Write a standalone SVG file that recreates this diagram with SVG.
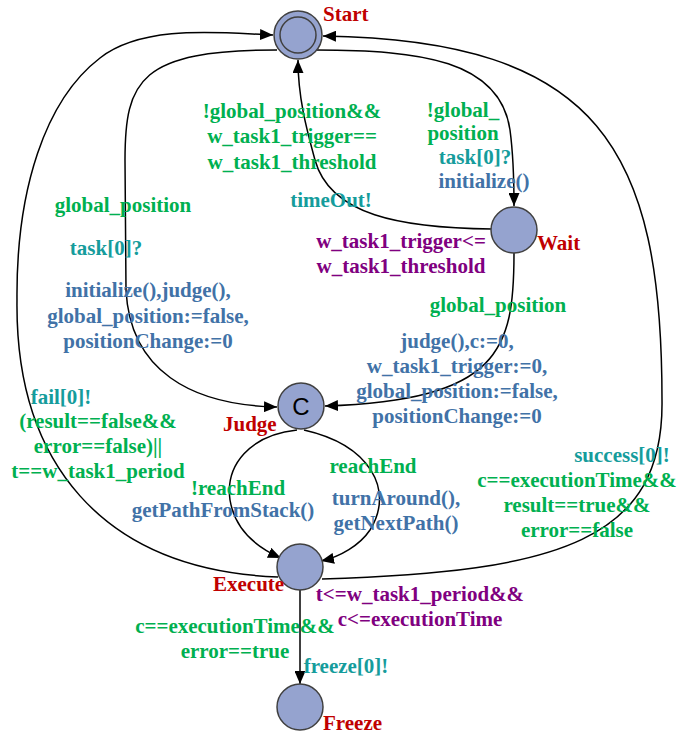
<svg xmlns="http://www.w3.org/2000/svg" width="678" height="735" viewBox="0 0 678 735">
  <defs>
    <marker id="arrow" markerUnits="userSpaceOnUse" markerWidth="13" markerHeight="11" refX="13" refY="5.5" orient="auto">
      <path d="M0,0 L13,5.5 L0,11 z" fill="#000"/>
    </marker>
    <style>
      .node { fill: #95A3CF; stroke: #404040; stroke-width: 1.5; }
      .edge { fill: none; stroke: #000; stroke-width: 1.5; marker-end: url(#arrow); }
      text { font-family: "Liberation Serif", "Times New Roman", serif; font-weight: bold; font-size: 21px; }
      .name { fill: #C00000; }
      .guard { fill: #00B050; text-anchor: middle; }
      .sync { fill: #159C9C; text-anchor: middle; }
      .update { fill: #4172A7; text-anchor: middle; }
      .inv { fill: #800080; text-anchor: middle; }
      .committed { font-family: "Liberation Sans", Arial, sans-serif; font-weight: normal; font-size: 24px; fill: #000; text-anchor: middle; }
    </style>
  </defs>
  <rect width="678" height="735" fill="#fff"/>

  <g id="connectors">
    <!-- Execute -> Start (left, fail) -->
    <path class="edge" d="M278,577 C100,570 15,460 17,300 C16,190 45,100 100,58 C144,24 220,33 273,35"/>
    <!-- Start -> Judge (global_position) -->
    <path class="edge" d="M277,50 C140,50 125,80 125,160 L126,290 C130,370 190,405 277,407"/>
    <!-- Wait -> Start (timeOut) -->
    <path class="edge" d="M492,229 C400,228 330,215 315,160 C308,134 298,100 298,60"/>
    <!-- Start -> Wait (!global_position) -->
    <path class="edge" d="M316,50 C420,50 500,60 510,130 C514,160 514,185 514,206"/>
    <!-- Wait -> Judge (global_position) -->
    <path class="edge" d="M514,253 C514,350 500,400 325,406"/>
    <!-- Judge -> Execute (!reachEnd) -->
    <path class="edge" d="M297,430 C250,435 225,465 230,500 C235,530 258,548 281,558"/>
    <!-- Judge -> Execute (reachEnd) -->
    <path class="edge" d="M304,430 C370,445 395,490 370,530 C360,545 340,557 321,561"/>
    <!-- Execute -> Start (right, success) -->
    <path class="edge" d="M322,579 C560,572 664,540 662,400 C662,150 600,40 323,36"/>
    <!-- Execute -> Freeze -->
    <path class="edge" d="M300,590 L300,684"/>
  </g>

  <g id="start">
    <circle class="node" cx="298" cy="35" r="24"/>
    <circle cx="298" cy="35" r="18" fill="none" stroke="#404040" stroke-width="1.5"/>
    <text class="name" x="323" y="21">Start</text>
  </g>
  <g id="wait">
    <circle class="node" cx="514" cy="230" r="23"/>
    <text class="name" x="537" y="250">Wait</text>
  </g>
  <g id="judge">
    <circle class="node" cx="301" cy="406" r="23"/>
    <text class="committed" x="301" y="415">C</text>
    <text class="name" x="223" y="431">Judge</text>
  </g>
  <g id="execute">
    <circle class="node" cx="300" cy="567" r="23"/>
    <text class="name" x="213" y="591">Execute</text>
  </g>
  <g id="freeze">
    <circle class="node" cx="300" cy="707" r="23"/>
    <text class="name" x="323" y="730">Freeze</text>
  </g>

  <g id="edge-labels">
    <!-- Wait -> Start -->
    <text class="guard" x="292" y="118">!global_position&amp;&amp;</text>
    <text class="guard" x="292" y="143">w_task1_trigger==</text>
    <text class="guard" x="292" y="169">w_task1_threshold</text>
    <text class="sync" x="331" y="207">timeOut!</text>

    <!-- Start -> Wait -->
    <text class="guard" x="463" y="117">!global_</text>
    <text class="guard" x="463" y="140">position</text>
    <text class="sync" x="475" y="164">task[0]?</text>
    <text class="update" x="484" y="188">initialize()</text>

    <!-- Wait invariant -->
    <text class="inv" x="401" y="248">w_task1_trigger&lt;=</text>
    <text class="inv" x="401" y="273">w_task1_threshold</text>

    <!-- Start -> Judge -->
    <text class="guard" x="123" y="212">global_position</text>
    <text class="sync" x="106" y="255">task[0]?</text>
    <text class="update" x="148" y="297">initialize(),judge(),</text>
    <text class="update" x="148" y="323">global_position:=false,</text>
    <text class="update" x="148" y="348">positionChange:=0</text>

    <!-- Wait -> Judge -->
    <text class="guard" x="498" y="312">global_position</text>
    <text class="update" x="457" y="348">judge(),c:=0,</text>
    <text class="update" x="457" y="373">w_task1_trigger:=0,</text>
    <text class="update" x="457" y="398">global_position:=false,</text>
    <text class="update" x="457" y="423">positionChange:=0</text>

    <!-- Execute -> Start (fail) -->
    <text class="sync" x="61" y="404">fail[0]!</text>
    <text class="guard" x="98" y="428">(result==false&amp;&amp;</text>
    <text class="guard" x="98" y="453">error==false)||</text>
    <text class="guard" x="98" y="478">t==w_task1_period</text>

    <!-- Judge -> Execute -->
    <text class="guard" x="238" y="495">!reachEnd</text>
    <text class="update" x="223" y="517">getPathFromStack()</text>
    <text class="guard" x="373" y="473">reachEnd</text>
    <text class="update" x="396" y="505">turnAround(),</text>
    <text class="update" x="396" y="530">getNextPath()</text>

    <!-- Execute -> Start (success) -->
    <text class="sync" x="622" y="462">success[0]!</text>
    <text class="guard" x="577" y="487">c==executionTime&amp;&amp;</text>
    <text class="guard" x="577" y="512">result==true&amp;&amp;</text>
    <text class="guard" x="577" y="537">error==false</text>

    <!-- Execute invariant -->
    <text class="inv" x="420" y="601">t&lt;=w_task1_period&amp;&amp;</text>
    <text class="inv" x="420" y="626">c&lt;=executionTime</text>

    <!-- Execute -> Freeze -->
    <text class="guard" x="235" y="633">c==executionTime&amp;&amp;</text>
    <text class="guard" x="235" y="658">error==true</text>
    <text class="sync" x="346" y="673">freeze[0]!</text>
  </g>
</svg>
